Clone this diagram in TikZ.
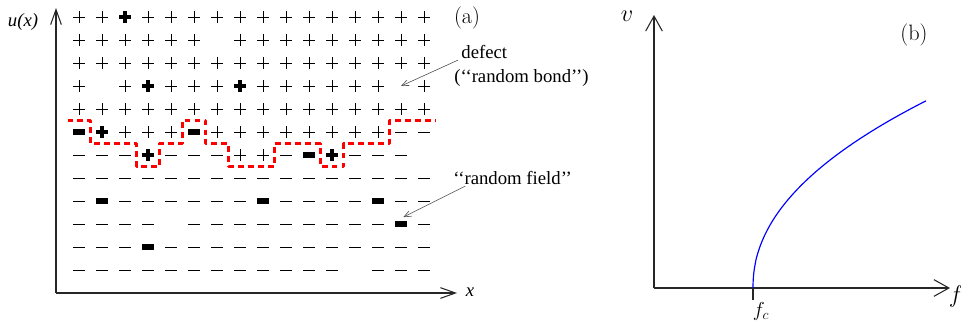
\documentclass[tikz,border=0pt]{standalone}
\usepackage{fontspec}
\newfontfamily\timesfont{Liberation Serif}
\usetikzlibrary{arrows.meta}

\tikzset{
	spin/.style={line width=0.8pt},
	spinup/.pic={\draw[spin] (-0.17cm,0) -- (0.17cm,0) (0,-0.17cm) -- (0,0.17cm);},
	spinupb/.pic={\draw[line width=3.6pt] (-0.18cm,0) -- (0.18cm,0) (0,-0.18cm) -- (0,0.18cm);},
	spindown/.pic={\draw[spin] (-0.18cm,0) -- (0.18cm,0);},
	spindownb/.pic={\fill (-0.18cm,-0.085cm) rectangle (0.18cm,0.085cm);},
	wall/.style={red,line width=2pt,dash pattern=on 5pt off 3.5pt},
	axisl/.style={line width=0.9pt,black!85,-{Straight Barb[length=4.5mm,width=3.2mm]}},
	axisr/.style={line width=0.9pt,black!85,-{Straight Barb[length=4.5mm,width=5mm]}},
	pointer/.style={line width=0.5pt,black!70,-{Straight Barb[length=6pt,width=5pt]}},
	txt/.style={font=\timesfont\fontsize{16}{19}\selectfont,inner sep=1pt},
	pan/.style={font=\fontsize{19}{23}\selectfont,inner sep=1pt}
}

\begin{document}
\begin{tikzpicture}[x=0.03cm,y=0.03cm,line join=round]
	\useasboundingbox (0,0) rectangle (961,323);
	%% panel (a): lattice of spins
	\coordinate (O1) at (56,30);
	\coordinate (utop) at (56,315);
	\coordinate (xend) at (457,30);
	\draw [axisl] (O1) -- (utop);
	\draw [axisl] (O1) -- (xend);
	\node[txt] (ulab) at (23,301) {\textit{u(x)}};
	\node[txt] (xlab) at (470,31) {\textit{x}};
	\node[pan] (alab) at (467,305) {(a)};
	\begin{scope}[shift={(56,329)},x=0.69cm,y=-0.69cm]
		% 0 none, 1 up, 2 up (bold), 3 down, 4 down (bold)
		\foreach \row [count=\j] in {
			{1,1,2,1,1,1,1,1,1,1,1,1,1,1,1,1},
			{1,1,1,1,1,1,0,1,1,1,1,1,1,1,1,1},
			{1,1,1,1,1,1,1,1,1,1,1,1,1,1,1,1},
			{1,0,1,2,1,1,1,2,1,1,1,1,1,1,0,1},
			{1,1,1,1,1,1,1,1,1,1,1,1,1,1,1,1},
			{4,2,1,1,1,4,1,1,1,1,1,1,1,1,3,3},
			{3,3,3,2,3,3,3,1,1,3,4,2,3,3,3,0},
			{3,3,3,3,3,3,3,3,3,3,3,3,3,3,3,3},
			{3,4,3,3,3,3,3,3,4,3,3,3,3,4,3,3},
			{3,3,3,3,0,3,3,3,3,3,3,3,3,3,4,3},
			{3,3,3,4,3,3,3,3,3,3,3,3,3,3,3,3},
			{3,3,3,3,3,3,3,3,3,3,3,3,0,3,3,3}}
			\foreach \s [count=\i] in \row {
				\ifcase\s
				\or \pic at (\i,\j) {spinup};
				\or \pic at (\i,\j) {spinupb};
				\or \pic at (\i,\j) {spindown};
				\or \pic at (\i,\j) {spindownb};
				\fi
			};
		\draw [wall] (0.5,5.5) -- (1.5,5.5) -- (1.5,6.5) -- (3.5,6.5) -- (3.5,7.5) -- (4.5,7.5) -- (4.5,6.5) -- (5.5,6.5) -- (5.5,5.5) -- (6.5,5.5) -- (6.5,6.5) -- (7.5,6.5) -- (7.5,7.5) -- (9.5,7.5) -- (9.5,6.5) -- (11.5,6.5) -- (11.5,7.5) -- (12.5,7.5) -- (12.5,6.5) -- (14.5,6.5) -- (14.5,5.5) -- (16.5,5.5);
		\coordinate (bondsite) at (15,4);
		\coordinate (fieldsite) at (15.1,9.7);
	\end{scope}
	\node[txt,anchor=west] (defect) at (460,271) {defect};
	\node[txt,anchor=west] (rbond) at (453,245) {(‘‘random bond’’)};
	\node[txt,anchor=west] (rfield) at (452,145) {‘‘random field’’};
	\draw [pointer] ([xshift=-0.06cm]defect.south west) -- (bondsite);
	\draw [pointer] ([xshift=0.4cm]rfield.south west) -- (fieldsite);
	%% panel (b): velocity vs force
	\coordinate (O2) at (654,35);
	\coordinate (vtop) at (654,308);
	\coordinate (fend) at (950,35);
	\coordinate (fc) at (753,35);
	\coordinate (fctick) at (753,23);
	\draw [axisr] (O2) -- (vtop);
	\draw [axisr] (O2) -- (fend);
	\draw [line width=0.9pt,black!85] (fc) -- (fctick);
	\draw [blue,line width=1pt] (fc) -- plot[domain=0.001:1,samples=80,smooth] ({753+173.3*\x*\x},{35+187.3*\x^0.94});
	\node[font=\fontsize{22}{26}\selectfont] (vlab) at (627,307) {$v$};
	\node[font=\fontsize{22}{26}\selectfont] (flab) at (956,27) {$f$};
	\node[font=\fontsize{17}{20}\selectfont] (fclab) at (761,12) {$f_c$};
	\node[pan] (blab) at (914,288) {(b)};
\end{tikzpicture}
\end{document}
